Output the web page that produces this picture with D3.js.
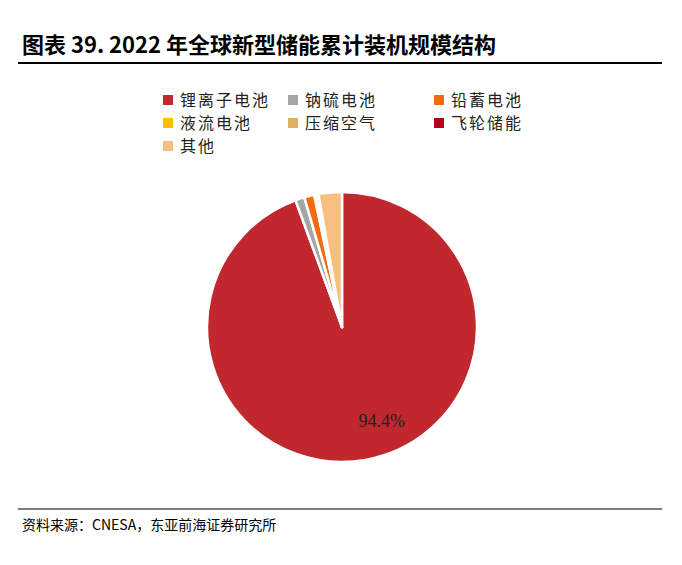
<!DOCTYPE html><html><head><meta charset="utf-8"><script src="https://cdn.jsdelivr.net/npm/d3@7"></script>
<style>body{margin:0;background:#fff}</style></head><body><svg id="c" width="682" height="565"></svg>
<script>
const categories=["锂离子电池","钠硫电池","铅蓄电池","液流电池","压缩空气","飞轮储能","其他"];
const values=[94.4,1.1,1.2,0.2,0.2,0.1,2.8];
const colors=["#c0282e","#a5a5a5","#f36b10","#ffc000","#ddb363","#b0001a","#f7bf82"];
const svg=d3.select("#c");
const cjk="'Noto Sans CJK SC',sans-serif";
svg.append("text").attr("x",22).attr("y",53).attr("font-family",cjk).attr("font-weight","bold").attr("font-size",22).text("图表 39. 2022 年全球新型储能累计装机规模结构");
svg.append("line").attr("x1",18).attr("x2",662).attr("y1",63).attr("y2",63).attr("stroke","#000").attr("stroke-width",2);
svg.append("line").attr("x1",18).attr("x2",662).attr("y1",509).attr("y2",509).attr("stroke","#000").attr("stroke-width",1);
svg.append("text").attr("x",22).attr("y",530).attr("font-family",cjk).attr("font-size",14).text("资料来源：CNESA，东亚前海证券研究所");
const pos=[[163,101],[288,101],[434,101],[163,124],[288,124],[434,124],[163,147]];
categories.forEach((c,i)=>{
 const g=svg.append("g").attr("transform",`translate(${pos[i][0]},${pos[i][1]})`);
 g.append("rect").attr("x",0).attr("y",-6).attr("width",10).attr("height",10).attr("fill",colors[i]);
 g.append("text").attr("x",17).attr("y",5).attr("font-family",cjk).attr("font-size",16).attr("letter-spacing",2).attr("fill","#222").text(c);
});
const cx=342,cy=327,r=135;
const pie=d3.pie().sort(null).value(d=>d)(values);
const arc=d3.arc().innerRadius(0).outerRadius(r);
const g=svg.append("g").attr("transform",`translate(${cx},${cy})`);
g.selectAll("path").data(pie).join("path").attr("d",arc).attr("fill",(d,i)=>colors[i]).attr("stroke","#fff").attr("stroke-width",2.5).attr("stroke-linejoin","round");
const la=d3.arc().innerRadius(r*0.75).outerRadius(r*0.75).centroid(pie[0]);
g.append("text").attr("x",la[0]+22).attr("y",la[1]-6).attr("text-anchor","middle").attr("dy","0.35em").attr("font-family","'Liberation Serif',serif").attr("font-size",18).attr("fill","#222").text(values[0]+"%");
</script></body></html>
